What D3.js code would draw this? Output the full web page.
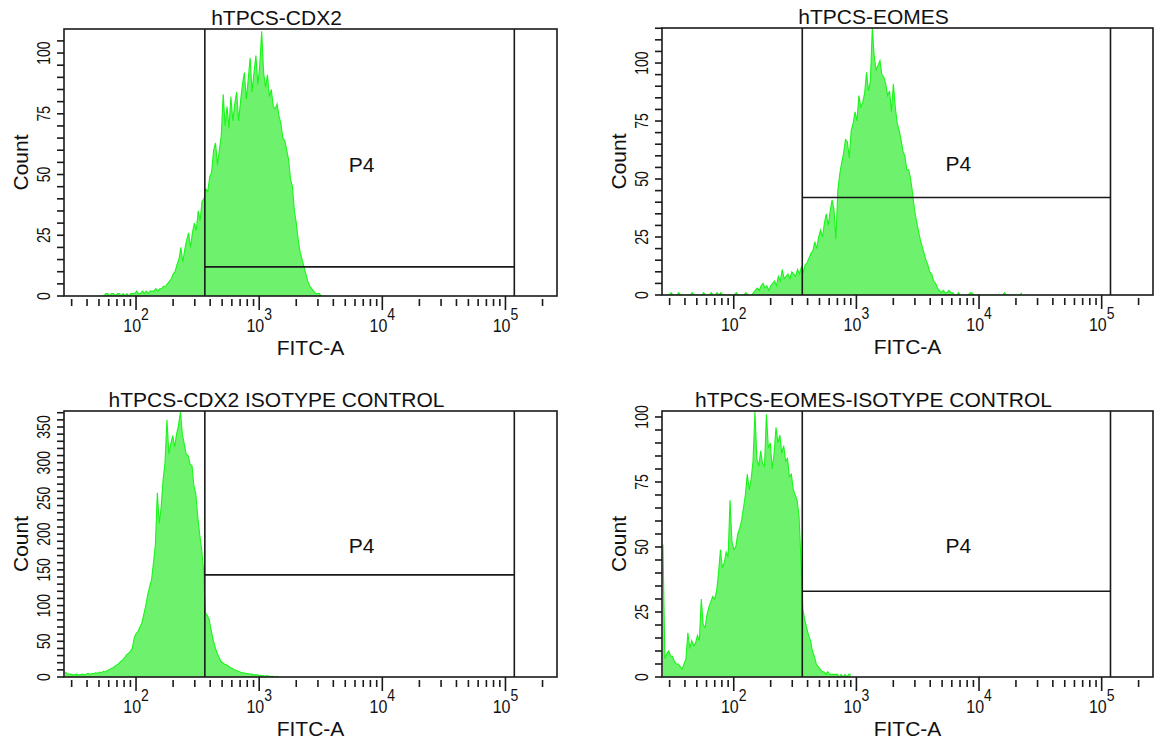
<!DOCTYPE html>
<html>
<head>
<meta charset="utf-8">
<script src="https://cdn.jsdelivr.net/npm/d3@7"></script>
<style>
  html, body { margin: 0; padding: 0; background: #fff; }
  svg { display: block; }
  .lbl { font-family: "Liberation Sans", Arial, sans-serif; fill: #111; }
  .num { font-family: "Liberation Sans", Arial, sans-serif; fill: #111; }
</style>
</head>
<body>
<svg id="chart" width="1160" height="749"></svg>
<script>
// ---------------- DATA ----------------
const titles = ["hTPCS-CDX2", "hTPCS-EOMES", "hTPCS-CDX2 ISOTYPE CONTROL", "hTPCS-EOMES-ISOTYPE CONTROL"];
const xAxisLabel = "FITC-A";
const yAxisLabel = "Count";
const gateName = "P4";
const xDomain = [26, 262144];
const xMajorExponents = [2, 3, 4, 5];
const binsPerDecade = 64;

// log10 of the first bin's left edge, then counts per bin
const cdx2Start = 1.70;
const cdx2Counts = [0,0,0,1,1,0,1,1,0,1, 1,0,1,0,1,0,1,1,1,2, 1,1,2,1,2,1,2,2,2,3,
  2,3,3,4,4,5,6,7,9,10, 13,15,20,14,19,23,26,20,26,30, 27,35,31,39,40,44,43,49,51,60,
  63,54,60,66,83,70,78,69,82,72, 79,84,72,80,87,92,81,89,98,84, 92,99,87,95,109,92,86,91,82,85,
  78,77,79,74,71,65,64,60,56,48, 45,35,30,23,18,15,12,9,6,4, 3,2,1,1,1,0];

const eomesStart = 1.45;
const eomesCounts = [0,0,1,0,0,0,1,0,0,0, 0,0,0,1,0,0,0,0,0,1, 0,0,0,1,0,0,1,0,1,0,
  0,0,0,0,0,0,1,0,0,0, 0,1,0,0,0,1,2,3,2,4, 5,3,4,2,4,5,6,4,8,6,
  11,7,8,9,7,10,9,8,11,9, 12,10,13,14,16,18,19,23,20,25, 28,25,31,35,30,36,41,37,24,45,
  52,57,61,67,66,59,71,74,79,75, 86,81,83,87,96,88,92,115,103,97, 99,101,95,94,91,86,88,79,91,81,
  74,71,67,62,60,54,54,50,44,37, 32,28,24,21,18,15,13,10,9,6, 5,3,2,1,2,1,1,2,1,1,
  0,0,1,0,0,0,0,0,1,1, 0,0,0,0,0,0,0,0,0,0, 0,0,0,0,0,0,1,0,0,0, 0,0,0,0,0,1];

const cdx2IsoStart = 1.415;
const cdx2IsoCounts = [7,5,4,4,3,3,4,3,3,4, 3,4,5,4,5,5,6,5,7,6, 8,7,9,10,12,13,15,17,19,22,
  24,27,31,33,36,40,55,61,64,70, 76,88,100,115,126,136,160,185,258,215,
  238,276,300,360,312,326,338,322,340,352, 371,340,326,312,310,298,296,268,256,225,
  200,180,150,90,86,80,65,52,42,34, 28,22,20,18,17,15,13,12,10,9,
  8,7,6,6,5,5,4,4,3,3, 3,2,2,2,1,2,1,1,1,0, 1,0];

const eomesIsoStart = 1.415;
const eomesIsoCounts = [51,7,9,10,8,8,6,5,5,4, 3,5,7,17,11,14,12,13,16,14,
  30,20,19,24,27,29,31,30,33,40, 49,42,44,48,46,68,52,49,50,55,
  57,60,65,70,78,72,76,83,102,84, 81,87,82,81,101,88,90,80,86,96,
  90,93,86,89,83,84,77,78,72,70, 68,62,45,26,22,19,16,14,10,8,
  5,4,3,2,2,1,2,1,1,1, 1,1,0,1,0,1,0,1,1];

const yMaxes = [109.9, 115.1, 372.4, 102.3];
const yTickValues = [[0,25,50,75,100],[0,25,50,75,100],[0,50,100,150,200,250,300,350],[0,25,50,75,100]];
const yMinorSteps = [5, 5, 10, 5];
const gateLow = 362;
const gateHigh = 118000;
const gateCounts = [12, 42, 143, 33];

// ---------------- LAYOUT ----------------
const frames = [
  {x: 64,  y: 29,  w: 493, h: 267},
  {x: 662, y: 28,  w: 491, h: 267},
  {x: 64,  y: 411, w: 493, h: 266},
  {x: 662, y: 411, w: 491, h: 266}
];
const hist = [
  {start: cdx2Start, counts: cdx2Counts},
  {start: eomesStart, counts: eomesCounts},
  {start: cdx2IsoStart, counts: cdx2IsoCounts},
  {start: eomesIsoStart, counts: eomesIsoCounts}
];

const svg = d3.select("#chart");
svg.append("rect").attr("width", 1160).attr("height", 749).attr("fill", "#fff");

const fillColor = "#6ef26e";
const lineColor = "#19f519";
const ink = "#1a1a1a";
const textSize = 21;

frames.forEach((f, p) => {
  const g = svg.append("g").attr("transform", `translate(${f.x},${f.y})`);
  const x = d3.scaleLog().domain(xDomain).range([0, f.w]);
  const y = d3.scaleLinear().domain([0, yMaxes[p]]).range([f.h, 0]);

  const clipId = "clip" + p;
  g.append("clipPath").attr("id", clipId).append("rect").attr("width", f.w).attr("height", f.h);

  // histogram
  const pts = hist[p].counts.map((c, i) => ({v: Math.pow(10, hist[p].start + (i + 0.5) / binsPerDecade), c}));
  const area = d3.area().x(d => x(d.v)).y0(y(0)).y1(d => y(d.c));
  const line = d3.line().x(d => x(d.v)).y(d => y(d.c));
  const hg = g.append("g").attr("clip-path", `url(#${clipId})`);
  hg.append("path").datum(pts).attr("d", area).attr("fill", fillColor);
  hg.append("path").datum(pts).attr("d", line).attr("fill", "none")
    .attr("stroke", lineColor).attr("stroke-width", 1.1).attr("stroke-linejoin", "miter");

  // gate
  const gx0 = x(gateLow), gx1 = x(gateHigh), gy = y(gateCounts[p]);
  [[gx0, 0, gx0, f.h], [gx1, 0, gx1, f.h], [gx0, gy, gx1, gy]].forEach(s => {
    g.append("line").attr("x1", s[0]).attr("y1", s[1]).attr("x2", s[2]).attr("y2", s[3])
      .attr("stroke", ink).attr("stroke-width", 1.6);
  });
  g.append("text").attr("class", "lbl").attr("x", (gx0 + gx1) / 2 + 2).attr("y", f.h / 2 + 9)
    .attr("text-anchor", "middle").attr("font-size", textSize).text(gateName);

  // frame
  g.append("rect").attr("width", f.w).attr("height", f.h).attr("fill", "none")
    .attr("stroke", ink).attr("stroke-width", 1.6);

  // x ticks
  const minorVals = [];
  for (let e = 1; e <= 5; e++) {
    for (let m = 2; m <= 9; m++) {
      const v = m * Math.pow(10, e);
      if (v >= xDomain[0] && v <= xDomain[1]) minorVals.push(v);
    }
  }
  const majorVals = xMajorExponents.map(e => Math.pow(10, e));
  const xt = g.append("g").attr("transform", `translate(0,${f.h})`);
  xt.selectAll("line.minor").data(minorVals).enter().append("line")
    .attr("x1", d => x(d)).attr("x2", d => x(d)).attr("y1", 3).attr("y2", 10)
    .attr("stroke", ink).attr("stroke-width", 1.6);
  xt.selectAll("line.major").data(majorVals).enter().append("line")
    .attr("x1", d => x(d)).attr("x2", d => x(d)).attr("y1", 0).attr("y2", 14)
    .attr("stroke", ink).attr("stroke-width", 1.6);
  xMajorExponents.forEach(e => {
    const px = x(Math.pow(10, e));
    xt.append("text").attr("class", "num").attr("font-size", 16)
      .attr("transform", `translate(${px + 5},36) scale(1,1.15)`)
      .attr("text-anchor", "end").text("10");
    xt.append("text").attr("class", "num").attr("font-size", 14)
      .attr("transform", `translate(${px + 5},24) scale(1,1.15)`)
      .attr("text-anchor", "start").text(String(e));
  });
  xt.append("text").attr("class", "lbl").attr("x", f.w / 2).attr("y", 59)
    .attr("text-anchor", "middle").attr("font-size", textSize).text(xAxisLabel);

  // y ticks
  const ym = [];
  for (let v = 0; v <= yMaxes[p] + 0.001; v += yMinorSteps[p]) ym.push(v);
  g.selectAll("line.yt").data(ym).enter().append("line")
    .attr("x1", -7).attr("x2", 0).attr("y1", d => y(d)).attr("y2", d => y(d))
    .attr("stroke", ink).attr("stroke-width", 1.6);
  yTickValues[p].forEach(v => {
    g.append("text").attr("class", "num").attr("font-size", 14)
      .attr("transform", `translate(-14,${y(v)}) rotate(-90) scale(1,1.3)`)
      .attr("text-anchor", "middle").text(String(v));
  });
  g.append("text").attr("class", "lbl").attr("font-size", textSize)
    .attr("transform", `translate(${-36},${f.h / 2}) rotate(-90)`)
    .attr("text-anchor", "middle").text(yAxisLabel);

  // title
  g.append("text").attr("class", "lbl").attr("x", f.w / 2 - 34).attr("y", -4)
    .attr("text-anchor", "middle").attr("font-size", textSize).text(titles[p]);
});
</script>
</body>
</html>
